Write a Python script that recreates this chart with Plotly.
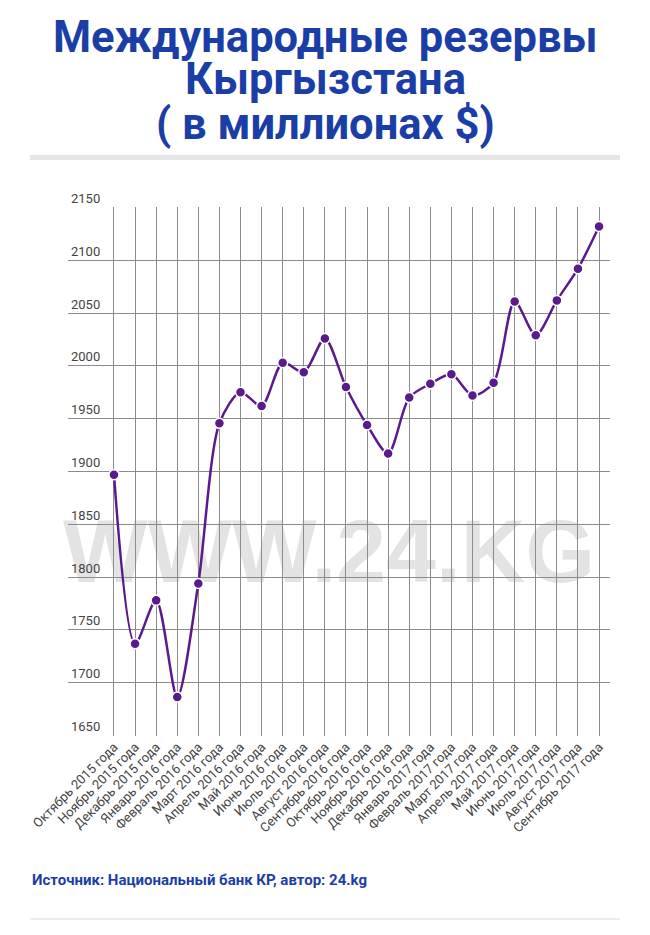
import plotly.graph_objects as go

months = ["Октябрь 2015 года", "Ноябрь 2015 года", "Декабрь 2015 года", "Январь 2016 года",
          "Февраль 2016 года", "Март 2016 года", "Апрель 2016 года", "Май 2016 года",
          "Июнь 2016 года", "Июль 2016 года", "Август 2016 года", "Сентябрь 2016 года",
          "Октябрь 2016 года", "Ноябрь 2016 года", "Декабрь 2016 года", "Январь 2017 года",
          "Февраль 2017 года", "Март 2017 года", "Апрель 2017 года", "Май 2017 года",
          "Июнь 2017 года", "Июль 2017 года", "Август 2017 года", "Сентябрь 2017 года"]
reserves = [1897, 1737, 1778, 1686.5, 1794, 1945.6, 1975, 1962, 2003, 1994, 2026, 1980,
            1944, 1917, 1970, 1983, 1992, 1972, 1984, 2061, 2029, 2062, 2092, 2132]
y_ticks = [1650, 1700, 1750, 1800, 1850, 1900, 1950, 2000, 2050, 2100, 2150]

title_lines = ["Международные резервы", "Кыргызстана", "( в миллионах $)"]
source_text = "Источник: Национальный банк КР, автор: 24.kg"
watermark = "WWW.24.KG"

BLUE = "#1b3ea6"
PURPLE = "#5a1a8c"
GRID = "#8c8c8c"

W, H = 650, 935
L, R, T, B = 68, 40, 207, 199
PH = H - T - B
PW = W - L - R

def py(ypx):
    return (H - B - ypx) / PH

def px(xpx):
    return (xpx - L) / PW

fig = go.Figure()
fig.add_trace(go.Scatter(
    x=months, y=reserves, mode="lines+markers",
    line=dict(color=PURPLE, width=2.5, shape="spline", smoothing=0.8),
    marker=dict(size=10, color=PURPLE, line=dict(color="white", width=1.5)),
    hoverinfo="x+y", showlegend=False,
))

annotations = []
for text, ycen in zip(title_lines, [37, 80, 124]):
    annotations.append(dict(
        text="<b>" + text + "</b>", x=0.5, xref="paper", y=py(ycen), yref="paper",
        xanchor="center", yanchor="middle", showarrow=False,
        font=dict(family="Roboto", size=43.5, color=BLUE),
        xshift=(W / 2 - (L + PW / 2)),
    ))
annotations.append(dict(
    text="<b>" + source_text + "</b>", x=px(30), xref="paper", y=py(880), yref="paper",
    xanchor="left", yanchor="middle", showarrow=False,
    font=dict(family="Roboto", size=15, color=BLUE),
))

shapes = [
    dict(type="rect", xref="paper", yref="paper", x0=px(30), x1=px(620), y0=py(160), y1=py(155),
         line=dict(width=0), fillcolor="#e6e6e6"),
    dict(type="line", xref="paper", yref="paper", x0=px(30), x1=px(620), y0=py(919), y1=py(919),
         line=dict(width=1, color="#dcdcdc")),
    dict(type="rect", xref="paper", yref="paper", x0=px(29), x1=px(629), y0=py(595), y1=py(489),
         line=dict(width=0), fillcolor="rgba(0,0,0,0)", layer="below",
         label=dict(text="<b>" + watermark + "</b>", textposition="middle center",
                    font=dict(family="Liberation Sans", size=89.5, color="#e3e3e3"))),
]

fig.update_layout(
    width=W, height=H,
    margin=dict(l=L, r=R, t=T, b=B, pad=0),
    paper_bgcolor="white", plot_bgcolor="rgba(0,0,0,0)",
    font=dict(family="Roboto", color="#444444"),
    annotations=annotations, shapes=shapes,
    xaxis=dict(
        type="category", range=[-2.18, 23.52], tickangle=-45,
        showgrid=True, gridcolor=GRID, gridwidth=1, zeroline=False, showline=False,
        ticks="", tickfont=dict(family="Roboto", size=13, color="#444444"), fixedrange=True,
    ),
    yaxis=dict(
        range=[1649.6, 2150.4], tickvals=y_ticks, ticktext=[str(v) for v in y_ticks],
        ticklabelposition="inside top", ticklabeloverflow="allow",
        showgrid=True, gridcolor=GRID, gridwidth=1,
        zeroline=False, showline=False, ticks="",
        tickfont=dict(family="Roboto", size=13, color="#444444"), fixedrange=True,
    ),
)

fig.write_html("out.html", config={"displayModeBar": False},
               post_script="document.body.style.margin='0px';")
